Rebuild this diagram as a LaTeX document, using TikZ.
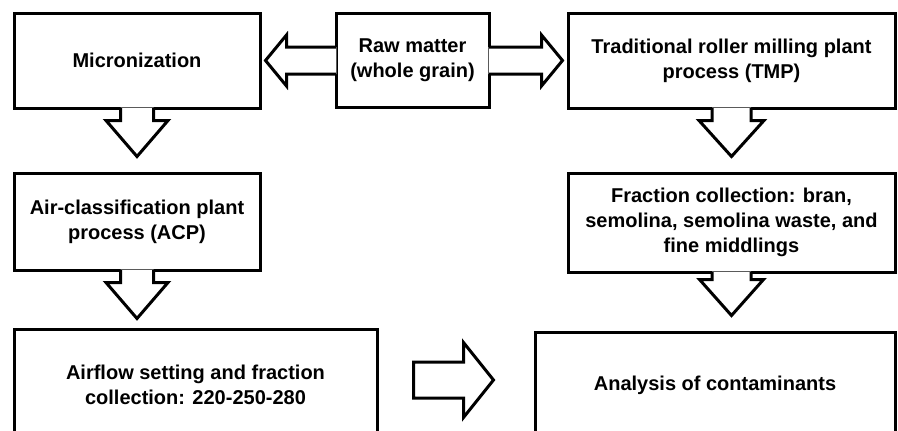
\documentclass[tikz,border=0pt]{standalone}
\usepackage{fontspec}
\setmainfont{Liberation Sans}
\usetikzlibrary{calc}

\tikzset{
  stagebox/.style={draw, rectangle, line width=3pt, align=center, inner sep=0pt,
    font=\bfseries\fontsize{20}{25}\selectfont},
  blockline/.style={line width=3pt, line join=miter},
}

% hollow arrow pointing down, from the bottom of #1 to the top of #2
% #3 shaft half width, #4 head half width, #5 gap before target
\newcommand{\downblock}[5]{%
  \fill[white] let \p1=(#1.south), \p2=(#2.north) in
    ({\x1-#3pt},{\y1+1.8pt}) -- ({\x1-#3pt},{\y2+#5pt+36pt}) -- ({\x1-#4pt},{\y2+#5pt+36pt})
    -- ({\x1},{\y2+#5pt}) -- ({\x1+#4pt},{\y2+#5pt+36pt}) -- ({\x1+#3pt},{\y2+#5pt+36pt})
    -- ({\x1+#3pt},{\y1+1.8pt}) -- cycle;
  \draw[blockline] let \p1=(#1.south), \p2=(#2.north) in
    ({\x1-#3pt},{\y1+1.5pt}) -- ({\x1-#3pt},{\y2+#5pt+36pt}) -- ({\x1-#4pt},{\y2+#5pt+36pt})
    -- ({\x1},{\y2+#5pt}) -- ({\x1+#4pt},{\y2+#5pt+36pt}) -- ({\x1+#3pt},{\y2+#5pt+36pt})
    -- ({\x1+#3pt},{\y1+1.5pt});
}

% hollow arrow sideways, from anchor #1 to anchor #2, #3 = 1 (right) or -1 (left)
\newcommand{\sideblock}[3]{%
  \fill[white] let \p1=(#1), \p2=(#2) in
    ({\x1-(#3)*1.8pt},{\y1+13.5pt}) -- ({\x2-(#3)*25pt},{\y1+13.5pt}) -- ({\x2-(#3)*25pt},{\y1+25.5pt})
    -- ({\x2-(#3)*4pt},{\y1}) -- ({\x2-(#3)*25pt},{\y1-25.5pt}) -- ({\x2-(#3)*25pt},{\y1-13.5pt})
    -- ({\x1-(#3)*1.8pt},{\y1-13.5pt}) -- cycle;
  \draw[blockline] let \p1=(#1), \p2=(#2) in
    ({\x1-(#3)*1.5pt},{\y1+13.5pt}) -- ({\x2-(#3)*25pt},{\y1+13.5pt}) -- ({\x2-(#3)*25pt},{\y1+25.5pt})
    -- ({\x2-(#3)*4pt},{\y1}) -- ({\x2-(#3)*25pt},{\y1-25.5pt}) -- ({\x2-(#3)*25pt},{\y1-13.5pt})
    -- ({\x1-(#3)*1.5pt},{\y1-13.5pt});
}

\begin{document}
\begin{tikzpicture}[x=1pt, y=1pt]
  \clip (0,0) rectangle (898,-431);

  % top row
  \node[stagebox, minimum width=246pt, minimum height=95pt] (mic) at (137,-60.5) {Micronization};
  \node[stagebox, minimum width=153pt, minimum height=94pt] (raw) at (412.5,-60.5) {Raw matter\\(whole grain)};
  \node[stagebox, minimum width=327pt, minimum height=95pt] (tmp) at (731.5,-60.5) {Traditional roller milling plant\\process (TMP)};

  % middle row
  \node[stagebox, minimum width=246pt, minimum height=97pt] (acp) at (137,-221.5) {Air-classification plant\\process (ACP)};
  \node[stagebox, minimum width=327pt, minimum height=99pt] (frac) at (731.5,-222.5) {Fraction collection: bran,\\semolina, semolina waste, and\\fine middlings};

  % bottom row
  \node[stagebox, minimum width=363pt, minimum height=112pt] (air) at (195.5,-385) {Airflow setting and fraction\\collection: 220-250-280};
  \node[stagebox, minimum width=360pt, minimum height=107pt] (ana) at (715,-385.5) {Analysis of contaminants};

  % arrows
  \sideblock{raw.west}{mic.east}{-1}
  \sideblock{raw.east}{tmp.west}{1}
  \downblock{mic}{acp}{16.5}{31}{15}
  \downblock{acp}{air}{16.5}{31}{9}
  \downblock{tmp}{frac}{19.5}{32.5}{15}
  \downblock{frac}{ana}{19.5}{32}{15}
  \draw[blockline] let \p1=(air.east), \p2=(ana.west) in
    ({\x1+35pt},{\y1+23pt}) -- ({\x2-70pt},{\y1+23pt}) -- ({\x2-70pt},{\y1+42.5pt})
    -- ({\x2-40pt},{\y1+5pt}) -- ({\x2-70pt},{\y1-32.5pt}) -- ({\x2-70pt},{\y1-13pt})
    -- ({\x1+35pt},{\y1-13pt}) -- cycle;
\end{tikzpicture}
\end{document}
